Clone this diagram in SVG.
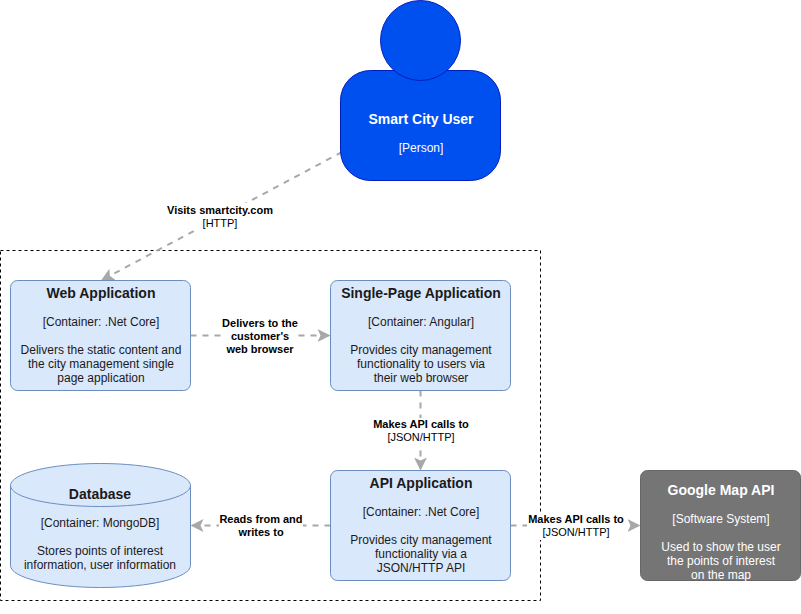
<svg xmlns="http://www.w3.org/2000/svg" width="801" height="614" viewBox="0 0 801 614">
<style>
text{font-family:"Liberation Sans",Arial,Helvetica,sans-serif;text-anchor:middle}
.t{font-size:14px;font-weight:bold}
.s{font-size:12px}
.box{fill:#dae8fc;stroke:#6c8ebf;stroke-width:1}
.dark{fill:#1a1a1a}
.light{fill:#fff}
.el{font-size:11px;fill:#000}
.eb{font-weight:bold}
.lb{fill:#fff;stroke:none}
.edge{fill:none;stroke:#a8a8a8;stroke-width:2;stroke-dasharray:6 6;marker-end:url(#a)}
</style>
<defs>
<marker id="a" markerUnits="userSpaceOnUse" markerWidth="15" markerHeight="15" refX="13" refY="7.5" orient="auto" viewBox="0 0 15 15"><path d="M0 1L13 7.500L0 14L3 7.500Z" fill="#a8a8a8"/></marker>
</defs>
<g id="boundary"><rect x="0.5" y="250.5" width="540" height="350" fill="none" stroke="#000" stroke-width="1" stroke-dasharray="3 3"/></g>
<g id="connectors">
<path class="edge" d="M342 152L101 280.500"/>
<path class="edge" d="M190.500 335.500H330.500"/>
<path class="edge" d="M420.500 390.500V470.500"/>
<path class="edge" d="M330.500 525.500H190.500"/>
<path class="edge" d="M510.500 525.500H640.500"/>
<rect class="lb" x="165" y="203" width="110" height="27"/>
<rect class="lb" x="222" y="316" width="76" height="40"/>
<rect class="lb" x="371" y="418" width="99" height="27"/>
<rect class="lb" x="219" y="513" width="84" height="27"/>
<rect class="lb" x="527" y="513" width="98" height="27"/>
<text class="el eb" x="220" y="214">Visits smartcity.com</text>
<text class="el" x="220" y="227">[HTTP]</text>
<text class="el eb" x="260" y="327">Delivers to the</text>
<text class="el eb" x="260" y="340">customer's</text>
<text class="el eb" x="260" y="353">web browser</text>
<text class="el eb" x="421" y="428">Makes API calls to</text>
<text class="el" x="421" y="441">[JSON/HTTP]</text>
<text class="el eb" x="261" y="523">Reads from and</text>
<text class="el eb" x="261" y="536">writes to</text>
<text class="el eb" x="576" y="523">Makes API calls to</text>
<text class="el" x="576" y="536">[JSON/HTTP]</text>
</g>
<g id="person">
<rect x="340.500" y="70.500" width="160" height="110" rx="30" fill="#0050ef" stroke="#001dbc"/>
<circle cx="420.500" cy="40.500" r="40" fill="#0050ef" stroke="#001dbc"/>
<text class="t light" x="421" y="124">Smart City User</text>
<text class="s light" x="421" y="152">[Person]</text>
</g>
<g id="web">
<rect class="box" x="10.500" y="280.500" width="180" height="110" rx="7"/>
<text class="t dark" x="101" y="298">Web Application</text>
<text class="s dark" x="101" y="326">[Container: .Net Core]</text>
<text class="s dark" x="101" y="354">Delivers the static content and</text>
<text class="s dark" x="101" y="368">the city management single</text>
<text class="s dark" x="101" y="382">page application</text>
</g>
<g id="spa">
<rect class="box" x="330.500" y="280.500" width="180" height="110" rx="7"/>
<text class="t dark" x="421" y="298">Single-Page Application</text>
<text class="s dark" x="421" y="326">[Container: Angular]</text>
<text class="s dark" x="421" y="354">Provides city management</text>
<text class="s dark" x="421" y="368">functionality to users via</text>
<text class="s dark" x="421" y="382">their web browser</text>
</g>
<g id="api">
<rect class="box" x="330.500" y="470.500" width="180" height="110" rx="7"/>
<text class="t dark" x="421" y="488">API Application</text>
<text class="s dark" x="421" y="516">[Container: .Net Core]</text>
<text class="s dark" x="421" y="544">Provides city management</text>
<text class="s dark" x="421" y="558">functionality via a</text>
<text class="s dark" x="421" y="572">JSON/HTTP API</text>
</g>
<g id="database">
<path class="box" d="M10.500 485.500C10.500 473.500 50.500 463.500 100.500 463.500S190.500 473.500 190.500 485.500V565.500C190.500 577.500 150.500 587.500 100.500 587.500S10.500 577.500 10.500 565.500Z"/>
<path d="M10.500 485.500C10.500 497.500 50.500 506.500 100.500 506.500S190.500 497.500 190.500 485.500" fill="none" stroke="#6c8ebf"/>
<text class="t dark" x="100" y="499">Database</text>
<text class="s dark" x="100" y="527">[Container: MongoDB]</text>
<text class="s dark" x="100" y="555">Stores points of interest</text>
<text class="s dark" x="100" y="569">information, user information</text>
</g>
<g id="google">
<rect x="640.500" y="470.500" width="160" height="110" rx="7" fill="#757575" stroke="#666"/>
<text class="t" style="fill:#fff" x="721" y="495">Google Map API</text>
<text class="s" style="fill:#fff" x="721" y="523">[Software System]</text>
<text class="s" style="fill:#fff" x="721" y="551">Used to show the user</text>
<text class="s" style="fill:#fff" x="721" y="565">the points of interest</text>
<text class="s" style="fill:#fff" x="721" y="579">on the map</text>
</g>
</svg>
